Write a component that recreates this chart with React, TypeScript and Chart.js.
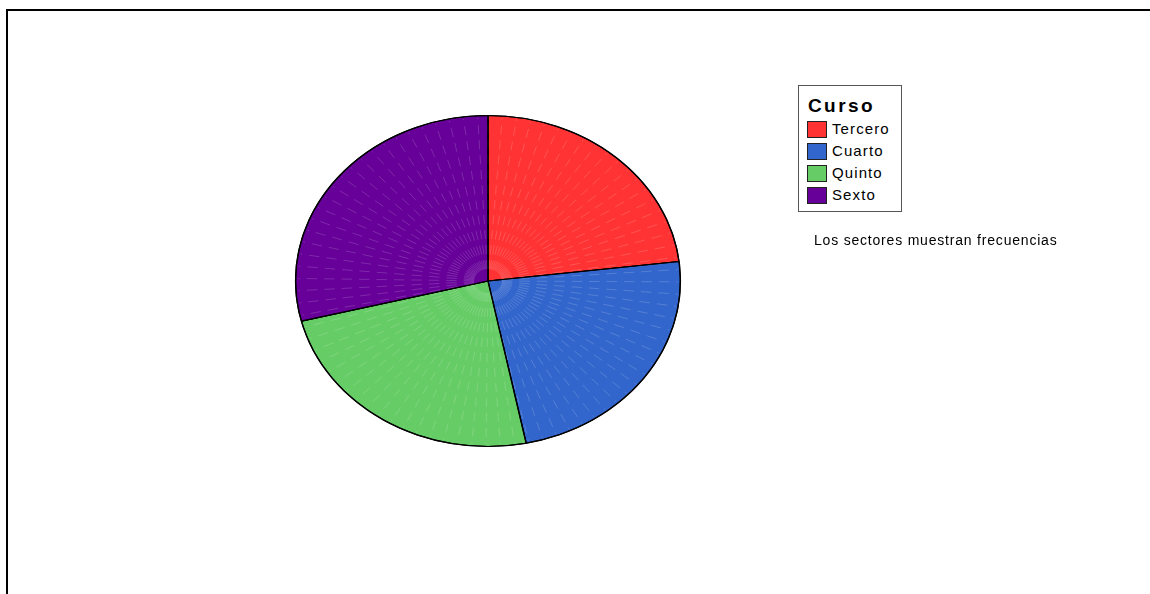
import React, { useEffect, useRef } from "react";
import { Chart, registerables } from "chart.js";

Chart.register(...registerables);

const legendTitle = "Curso";
const categories = ["Tercero", "Cuarto", "Quinto", "Sexto"];
const frequencies = [40, 41, 42, 50];
const sliceColors = ["#FF3333", "#3366CC", "#66CC66", "#660099"];
const footNote = "Los sectores muestran frecuencias";

const X_STRETCH = 193 / 166;

const ellipsePlugin = {
  id: "ellipse",
  beforeDatasetsDraw(chart: any) {
    const meta = chart.getDatasetMeta(0);
    const arc = meta.data[0];
    if (!arc) return;
    const { x, y } = arc;
    const ctx = chart.ctx;
    ctx.save();
    ctx.translate(x, y);
    ctx.scale(X_STRETCH, 1);
    ctx.translate(-x, -y);
  },
  afterDatasetsDraw(chart: any) {
    const meta = chart.getDatasetMeta(0);
    const arc = meta.data[0];
    if (!arc) return;
    const ctx = chart.ctx;
    const { x, y, outerRadius } = arc;
    // faint radial texture lines
    ctx.save();
    ctx.strokeStyle = "rgba(255,255,255,0.25)";
    ctx.lineWidth = 0.6;
    ctx.setLineDash([9, 6]);
    for (let a = 0; a < 360; a += 4.3) {
      const rad = (a * Math.PI) / 180 - Math.PI / 2;
      const r0 = 12;
      ctx.beginPath();
      ctx.moveTo(x + Math.cos(rad) * r0, y + Math.sin(rad) * r0);
      ctx.lineTo(x + Math.cos(rad) * (outerRadius - 2), y + Math.sin(rad) * (outerRadius - 2));
      ctx.stroke();
    }
    ctx.restore();
    // redraw slice borders on top
    ctx.save();
    ctx.strokeStyle = "#000";
    ctx.lineWidth = 1.2;
    meta.data.forEach((el: any) => {
      ctx.beginPath();
      ctx.moveTo(x, y);
      ctx.lineTo(x + Math.cos(el.startAngle) * outerRadius, y + Math.sin(el.startAngle) * outerRadius);
      ctx.stroke();
    });
    ctx.beginPath();
    ctx.arc(x, y, outerRadius, 0, Math.PI * 2);
    ctx.stroke();
    ctx.restore();
    ctx.restore();
  },
};

export default function App() {
  const canvasRef = useRef<HTMLCanvasElement>(null);

  useEffect(() => {
    if (!canvasRef.current) return;
    const chart = new Chart(canvasRef.current, {
      type: "pie",
      data: {
        labels: categories,
        datasets: [
          {
            data: frequencies,
            backgroundColor: sliceColors,
            borderColor: "#000",
            borderWidth: 1,
          },
        ],
      },
      options: {
        responsive: false,
        animation: false,
        events: [],
        layout: { padding: { left: 322, right: 496, top: 115, bottom: 147 } },
        plugins: {
          legend: { display: false },
          tooltip: { enabled: false },
          title: { display: false },
        },
      },
      plugins: [ellipsePlugin],
    });
    return () => chart.destroy();
  }, []);

  return (
    <div
      style={{
        position: "fixed",
        left: 0,
        top: 0,
        width: 1150,
        height: 594,
        overflow: "hidden",
        background: "#fff",
        fontFamily: "Arial, 'Liberation Sans', sans-serif",
      }}
    >
      <div
        style={{
          position: "absolute",
          left: 6,
          top: 9,
          width: 1300,
          height: 800,
          borderTop: "2px solid #000",
          borderLeft: "2px solid #000",
        }}
      />
      <canvas
        ref={canvasRef}
        width={1150}
        height={594}
        style={{ position: "absolute", left: 0, top: 0, width: 1150, height: 594 }}
      />
      <div
        style={{
          position: "absolute",
          left: 798,
          top: 85,
          width: 102,
          height: 125,
          border: "1px solid #555",
          background: "#fff",
        }}
      >
        <div
          style={{
            position: "absolute",
            left: 9,
            top: 10,
            fontSize: 19,
            fontWeight: "bold",
            letterSpacing: 2.4,
            lineHeight: "20px",
            color: "#000",
          }}
        >
          {legendTitle}
        </div>
        {categories.map((c, i) => (
          <div
            key={c}
            style={{ position: "absolute", left: 8, top: 34 + i * 22, height: 18, display: "flex", alignItems: "center" }}
          >
            <div
              style={{
                width: 18,
                height: 15,
                background: sliceColors[i],
                border: "1px solid #222",
              }}
            />
            <span
              style={{
                marginLeft: 5,
                fontSize: 15,
                letterSpacing: 1.1,
                lineHeight: "18px",
                color: "#000",
              }}
            >
              {c}
            </span>
          </div>
        ))}
      </div>
      <div
        style={{
          position: "absolute",
          left: 814,
          top: 231,
          fontSize: 14,
          letterSpacing: 0.8,
          lineHeight: "18px",
          color: "#000",
          whiteSpace: "nowrap",
        }}
      >
        {footNote}
      </div>
    </div>
  );
}
